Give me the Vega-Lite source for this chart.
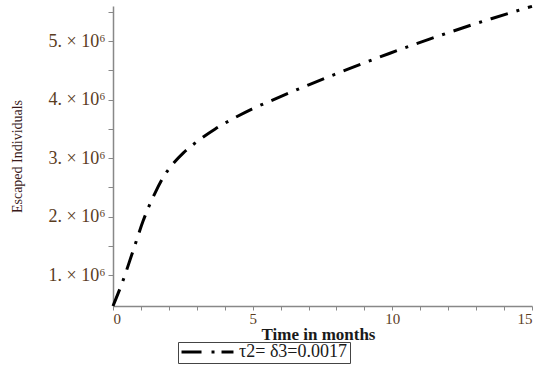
{
  "$schema": "https://vega.github.io/schema/vega-lite/v6.json",
  "width": 419,
  "height": 300,
  "autosize": {"type": "none"},
  "padding": {"left": 113, "top": 6, "right": 18, "bottom": 68},
  "background": "white",
  "config": {"view": {"stroke": null}, "axis": {"grid": false}, "legend": {"labelFont": "Liberation Serif"}},
  "data": {
    "values": [
      {"t": 0, "v": 475000, "s": "τ2= δ3=0.0017"},
      {"t": 0.32, "v": 860000, "s": "τ2= δ3=0.0017"},
      {"t": 0.72, "v": 1420000, "s": "τ2= δ3=0.0017"},
      {"t": 1.08, "v": 1930000, "s": "τ2= δ3=0.0017"},
      {"t": 1.5, "v": 2400000, "s": "τ2= δ3=0.0017"},
      {"t": 1.86, "v": 2720000, "s": "τ2= δ3=0.0017"},
      {"t": 2.16, "v": 2910000, "s": "τ2= δ3=0.0017"},
      {"t": 2.52, "v": 3090000, "s": "τ2= δ3=0.0017"},
      {"t": 3.08, "v": 3310000, "s": "τ2= δ3=0.0017"},
      {"t": 3.66, "v": 3500000, "s": "τ2= δ3=0.0017"},
      {"t": 4.28, "v": 3670000, "s": "τ2= δ3=0.0017"},
      {"t": 4.97, "v": 3840000, "s": "τ2= δ3=0.0017"},
      {"t": 5.63, "v": 3977000, "s": "τ2= δ3=0.0017"},
      {"t": 6.37, "v": 4127000, "s": "τ2= δ3=0.0017"},
      {"t": 7.03, "v": 4258000, "s": "τ2= δ3=0.0017"},
      {"t": 7.9, "v": 4425000, "s": "τ2= δ3=0.0017"},
      {"t": 8.46, "v": 4530000, "s": "τ2= δ3=0.0017"},
      {"t": 9.21, "v": 4667000, "s": "τ2= δ3=0.0017"},
      {"t": 9.89, "v": 4789000, "s": "τ2= δ3=0.0017"},
      {"t": 10.64, "v": 4918000, "s": "τ2= δ3=0.0017"},
      {"t": 11.33, "v": 5034000, "s": "τ2= δ3=0.0017"},
      {"t": 12.08, "v": 5156000, "s": "τ2= δ3=0.0017"},
      {"t": 12.83, "v": 5275000, "s": "τ2= δ3=0.0017"},
      {"t": 13.57, "v": 5387000, "s": "τ2= δ3=0.0017"},
      {"t": 14.29, "v": 5493000, "s": "τ2= δ3=0.0017"},
      {"t": 15, "v": 5594000, "s": "τ2= δ3=0.0017"}
    ]
  },
  "mark": {"type": "line", "interpolate": "monotone", "strokeWidth": 3, "strokeDash": [18, 9, 3, 9]},
  "encoding": {
    "x": {
      "field": "t", "type": "quantitative",
      "scale": {"domain": [0, 15], "nice": false},
      "axis": {
        "title": "Time in months",
        "values": [0,1,2,3,4,5,6,7,8,9,10,11,12,13,14,15],
        "labelExpr": "datum.value % 5 == 0 ? datum.label : ''",
        "labelFont": "Liberation Serif", "labelFontSize": 15, "labelColor": "#5a3c1e",
        "titleFont": "Liberation Serif", "titleFontSize": 17, "titleFontWeight": "bold", "titleColor": "#1a1a1a",
        "titlePadding": 0, "titleX": 205,
        "domainColor": "#888", "domainWidth": 1.5, "tickColor": "#888", "tickSize": 4, "labelPadding": 1
      }
    },
    "y": {
      "field": "v", "type": "quantitative",
      "scale": {"domain": [475000, 5600000], "nice": false, "zero": false},
      "axis": {
        "title": "Escaped Individuals",
        "values": [1000000,1500000,2000000,2500000,3000000,3500000,4000000,4500000,5000000,5500000],
        "labelExpr": "datum.value % 1000000 == 0 ? (datum.value/1000000) + '. × 10⁶' : ''",
        "labelFont": "Liberation Serif", "labelFontSize": 18, "labelColor": "#5a3c1e",
        "titleFont": "Liberation Serif", "titleFontSize": 14, "titleFontWeight": "normal", "titleColor": "#3a1a1a",
        "titlePadding": 24,
        "domainColor": "#888", "domainWidth": 1.5, "tickColor": "#888", "tickSize": 5, "labelPadding": 3
      }
    },
    "color": {
      "field": "s", "type": "nominal",
      "scale": {"range": ["black"]},
      "legend": {
        "title": null, "orient": "none", "legendX": 65, "legendY": 336,
        "symbolType": "stroke", "symbolSize": 2700, "symbolStrokeWidth": 3, "symbolDash": [20, 10, 3, 7],
        "clipHeight": 16,
        "labelFont": "serif", "labelFontSize": 18, "labelColor": "#1a1a1a",
        "strokeColor": "#444", "padding": 2
      }
    }
  }
}
